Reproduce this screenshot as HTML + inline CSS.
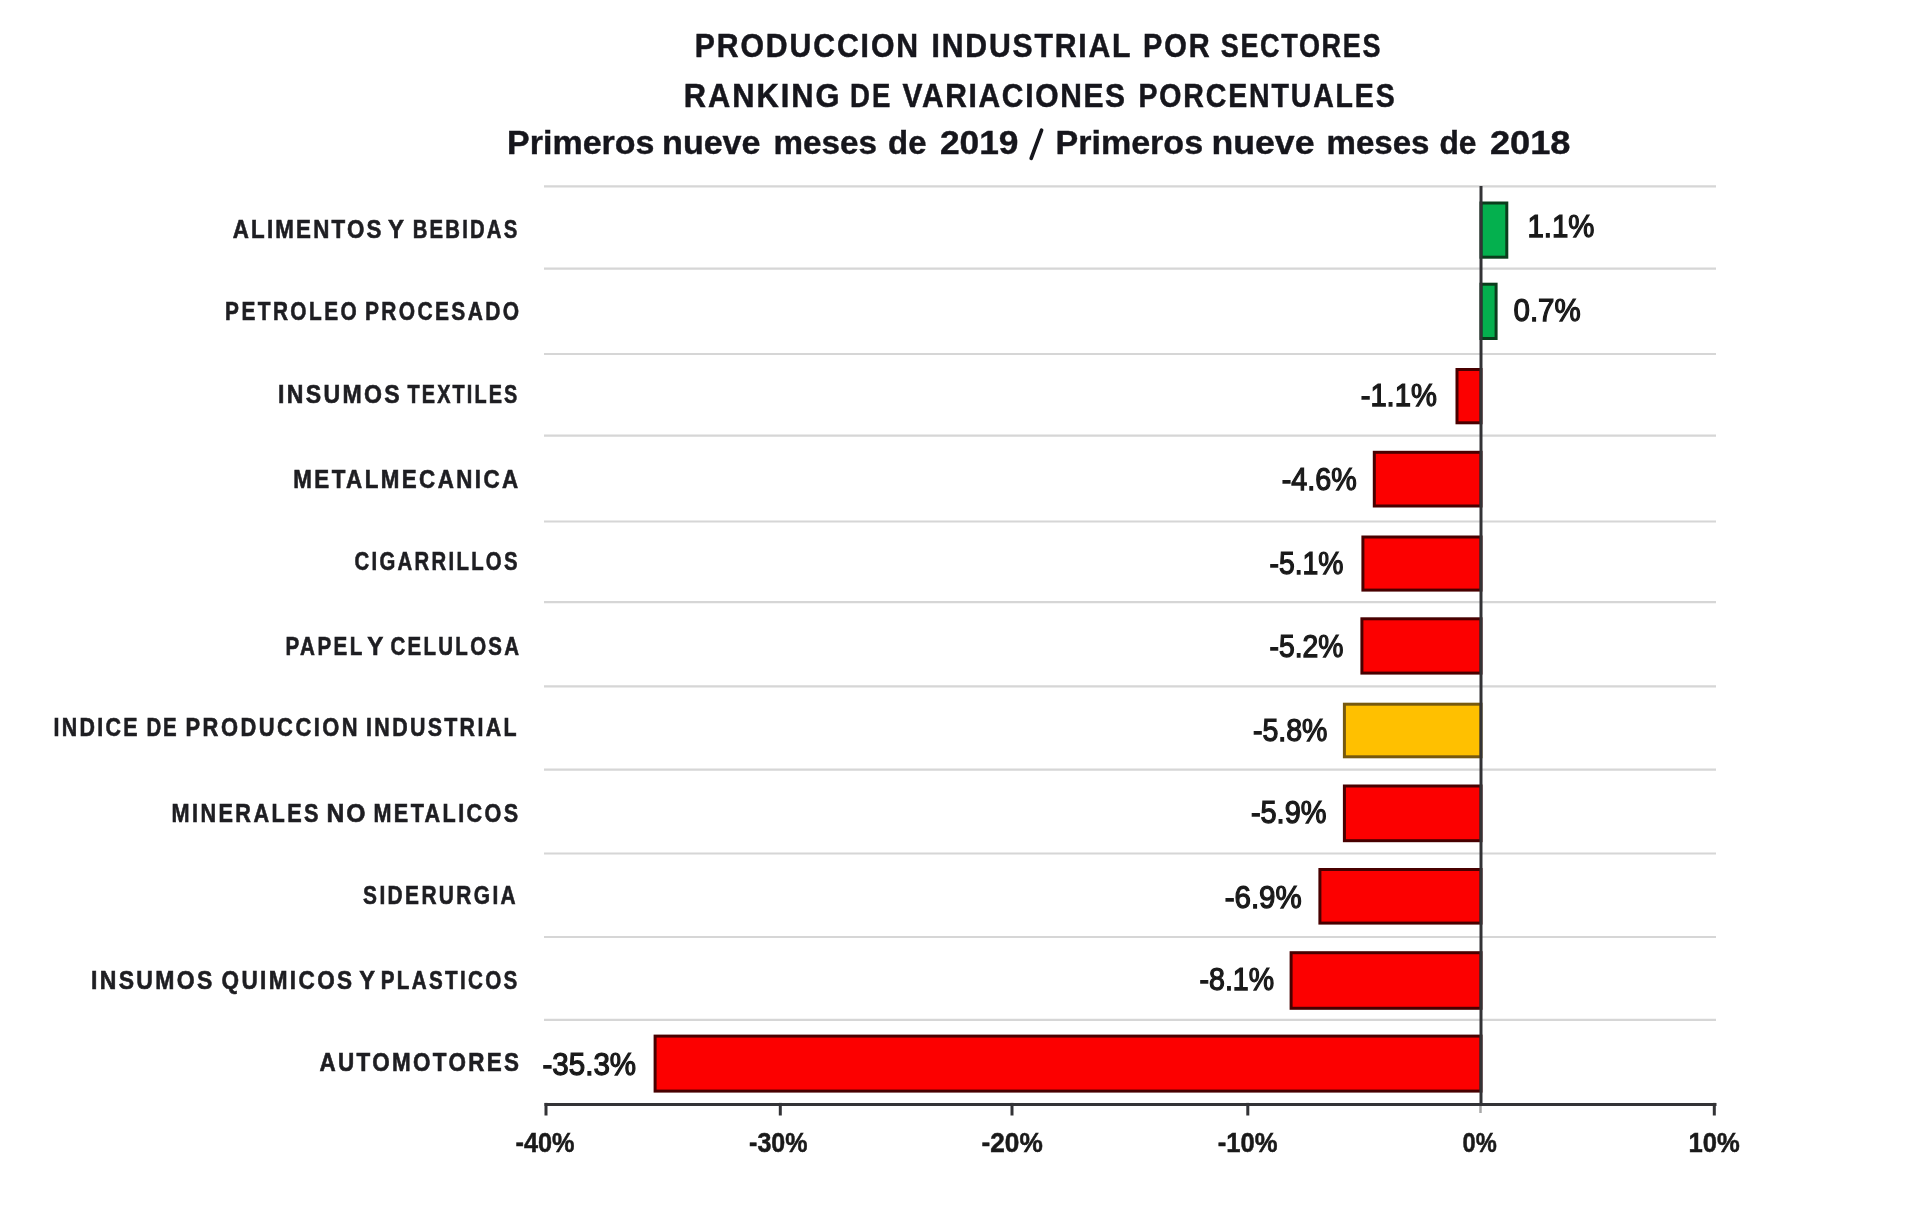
<!DOCTYPE html>
<html><head><meta charset="utf-8"><style>
html,body{margin:0;padding:0;background:#fff;}
body{width:1920px;height:1223px;overflow:hidden;}
svg{display:block;filter:blur(0.6px);}
text{font-family:"Liberation Sans",sans-serif;font-weight:bold;}
</style></head><body>
<svg width="1920" height="1223" viewBox="0 0 1920 1223">
<rect x="0" y="0" width="1920" height="1223" fill="#ffffff"/>
<g stroke="#d6d6d6" stroke-width="2.2" fill="none">
<line x1="544" y1="186.4" x2="1716" y2="186.4"/>
<line x1="544" y1="268.6" x2="1716" y2="268.6"/>
<line x1="544" y1="354" x2="1716" y2="354"/>
<line x1="544" y1="435.6" x2="1716" y2="435.6"/>
<line x1="544" y1="521.5" x2="1716" y2="521.5"/>
<line x1="544" y1="602.2" x2="1716" y2="602.2"/>
<line x1="544" y1="686.4" x2="1716" y2="686.4"/>
<line x1="544" y1="769.6" x2="1716" y2="769.6"/>
<line x1="544" y1="853.5" x2="1716" y2="853.5"/>
<line x1="544" y1="937" x2="1716" y2="937"/>
<line x1="544" y1="1019.9" x2="1716" y2="1019.9"/>
</g>
<rect x="1481.00" y="203.00" width="25.80" height="54.20" fill="#04b04e" stroke="#0a3d1c" stroke-width="3.0"/>
<rect x="1481.00" y="284.20" width="15.10" height="54.30" fill="#04b04e" stroke="#0a3d1c" stroke-width="3.0"/>
<rect x="1457.00" y="369.50" width="24.00" height="53.30" fill="#fc0000" stroke="#480000" stroke-width="3.0"/>
<rect x="1374.30" y="452.30" width="106.70" height="53.70" fill="#fc0000" stroke="#480000" stroke-width="3.0"/>
<rect x="1362.90" y="537.00" width="118.10" height="53.10" fill="#fc0000" stroke="#480000" stroke-width="3.0"/>
<rect x="1361.90" y="618.80" width="119.10" height="54.30" fill="#fc0000" stroke="#480000" stroke-width="3.0"/>
<rect x="1344.40" y="704.20" width="136.60" height="52.60" fill="#ffc000" stroke="#77590f" stroke-width="3.0"/>
<rect x="1344.40" y="786.00" width="136.60" height="54.70" fill="#fc0000" stroke="#480000" stroke-width="3.0"/>
<rect x="1319.90" y="869.50" width="161.10" height="53.60" fill="#fc0000" stroke="#480000" stroke-width="3.0"/>
<rect x="1291.10" y="952.70" width="189.90" height="55.60" fill="#fc0000" stroke="#480000" stroke-width="3.0"/>
<rect x="655.10" y="1036.10" width="825.90" height="55.00" fill="#fc0000" stroke="#480000" stroke-width="3.0"/>
<g stroke="#333336" stroke-width="3" fill="none">
<line x1="544.5" y1="1104.4" x2="1716.5" y2="1104.4"/>
<line x1="546" y1="1102.9" x2="546" y2="1115.5"/>
<line x1="780.3" y1="1102.9" x2="780.3" y2="1115.5"/>
<line x1="1012" y1="1102.9" x2="1012" y2="1115.5"/>
<line x1="1247.8" y1="1102.9" x2="1247.8" y2="1115.5"/>
<line x1="1714.3" y1="1102.9" x2="1714.3" y2="1115.5"/>
<line x1="1480.5" y1="1105.9" x2="1480.5" y2="1113" stroke="#a8a8a8" stroke-width="2.5"/>
<line x1="1481.0" y1="186" x2="1481.0" y2="1105.9"/>
</g>
<text transform="scale(0.9293372731110174,1)" x="747.52" y="57.50" font-size="32.5" fill="#16161c" textLength="240.39" lengthAdjust="spacing" stroke="#16161c" stroke-width="0.5">PRODUCCION</text>
<text transform="scale(0.9288765383088528,1)" x="1002.82" y="57.50" font-size="32.5" fill="#16161c" textLength="214.24" lengthAdjust="spacing" stroke="#16161c" stroke-width="0.5">INDUSTRIAL</text>
<text transform="scale(0.8915705412599803,1)" x="1282.12" y="57.50" font-size="32.5" fill="#16161c" textLength="74.70" lengthAdjust="spacing" stroke="#16161c" stroke-width="0.5">POR</text>
<text transform="scale(0.8310740903112672,1)" x="1468.82" y="57.50" font-size="32.5" fill="#16161c" textLength="192.28" lengthAdjust="spacing" stroke="#16161c" stroke-width="0.5">SECTORES</text>
<text transform="scale(0.9487586277943754,1)" x="720.63" y="107.20" font-size="32.5" fill="#16161c" textLength="164.21" lengthAdjust="spacing" stroke="#16161c" stroke-width="0.5">RANKING</text>
<text transform="scale(0.8481660899653984,1)" x="1002.28" y="107.20" font-size="32.5" fill="#16161c" textLength="47.63" lengthAdjust="spacing" stroke="#16161c" stroke-width="0.5">DE</text>
<text transform="scale(0.9220263084242937,1)" x="978.82" y="107.20" font-size="32.5" fill="#16161c" textLength="241.42" lengthAdjust="spacing" stroke="#16161c" stroke-width="0.5">VARIACIONES</text>
<text transform="scale(0.8771705673964805,1)" x="1297.92" y="107.20" font-size="32.5" fill="#16161c" textLength="292.08" lengthAdjust="spacing" stroke="#16161c" stroke-width="0.5">PORCENTUALES</text>
<text x="507.10" y="154.40" font-size="32.5" fill="#16161c" textLength="147.40" lengthAdjust="spacingAndGlyphs" stroke="#16161c" stroke-width="0.4">Primeros</text>
<text x="662.10" y="154.40" font-size="32.5" fill="#16161c" textLength="98.40" lengthAdjust="spacingAndGlyphs" stroke="#16161c" stroke-width="0.4">nueve</text>
<text x="773.50" y="154.40" font-size="32.5" fill="#16161c" textLength="103.40" lengthAdjust="spacingAndGlyphs" stroke="#16161c" stroke-width="0.4">meses</text>
<text x="888.10" y="154.40" font-size="32.5" fill="#16161c" textLength="38.40" lengthAdjust="spacingAndGlyphs" stroke="#16161c" stroke-width="0.4">de</text>
<text x="939.90" y="154.40" font-size="32.5" fill="#16161c" textLength="78.60" lengthAdjust="spacingAndGlyphs" stroke="#16161c" stroke-width="0.4">2019</text>
<text x="1055.50" y="154.40" font-size="32.5" fill="#16161c" textLength="147.60" lengthAdjust="spacingAndGlyphs" stroke="#16161c" stroke-width="0.4">Primeros</text>
<text x="1211.50" y="154.40" font-size="32.5" fill="#16161c" textLength="103.00" lengthAdjust="spacingAndGlyphs" stroke="#16161c" stroke-width="0.4">nueve</text>
<text x="1326.50" y="154.40" font-size="32.5" fill="#16161c" textLength="103.00" lengthAdjust="spacingAndGlyphs" stroke="#16161c" stroke-width="0.4">meses</text>
<text x="1439.50" y="154.40" font-size="32.5" fill="#16161c" textLength="37.00" lengthAdjust="spacingAndGlyphs" stroke="#16161c" stroke-width="0.4">de</text>
<text x="1489.90" y="154.40" font-size="32.5" fill="#16161c" textLength="80.60" lengthAdjust="spacingAndGlyphs" stroke="#16161c" stroke-width="0.4">2018</text>
<text transform="scale(0.8767352050934141,1)" x="265.42" y="238.00" font-size="25.5" fill="#1e1e22" textLength="169.72" lengthAdjust="spacing" stroke="#1e1e22" stroke-width="0.6">ALIMENTOS</text>
<text transform="scale(0.9403122130394858,1)" x="412.63" y="238.00" font-size="25.5" fill="#1e1e22" textLength="18.08" lengthAdjust="spacing" stroke="#1e1e22" stroke-width="0.6">Y</text>
<text transform="scale(0.7972770592239621,1)" x="517.64" y="238.00" font-size="25.5" fill="#1e1e22" textLength="131.20" lengthAdjust="spacing" stroke="#1e1e22" stroke-width="0.6">BEBIDAS</text>
<text transform="scale(0.8170212765957447,1)" x="275.51" y="320.30" font-size="25.5" fill="#1e1e22" textLength="161.07" lengthAdjust="spacing" stroke="#1e1e22" stroke-width="0.6">PETROLEO</text>
<text transform="scale(0.8219792755965394,1)" x="443.93" y="320.30" font-size="25.5" fill="#1e1e22" textLength="187.60" lengthAdjust="spacing" stroke="#1e1e22" stroke-width="0.6">PROCESADO</text>
<text transform="scale(0.9057634239201784,1)" x="306.81" y="402.80" font-size="25.5" fill="#1e1e22" textLength="134.47" lengthAdjust="spacing" stroke="#1e1e22" stroke-width="0.6">INSUMOS</text>
<text transform="scale(0.7787665085267346,1)" x="523.26" y="402.80" font-size="25.5" fill="#1e1e22" textLength="140.99" lengthAdjust="spacing" stroke="#1e1e22" stroke-width="0.6">TEXTILES</text>
<text transform="scale(0.8771232685042675,1)" x="334.39" y="488.10" font-size="25.5" fill="#1e1e22" textLength="256.29" lengthAdjust="spacing" stroke="#1e1e22" stroke-width="0.6">METALMECANICA</text>
<text transform="scale(0.7969403184203504,1)" x="444.83" y="570.00" font-size="25.5" fill="#1e1e22" textLength="204.53" lengthAdjust="spacing" stroke="#1e1e22" stroke-width="0.6">CIGARRILLOS</text>
<text transform="scale(0.8072180451127818,1)" x="353.68" y="655.20" font-size="25.5" fill="#1e1e22" textLength="95.14" lengthAdjust="spacing" stroke="#1e1e22" stroke-width="0.6">PAPEL</text>
<text transform="scale(0.9461891643709839,1)" x="388.14" y="655.20" font-size="25.5" fill="#1e1e22" textLength="18.07" lengthAdjust="spacing" stroke="#1e1e22" stroke-width="0.6">Y</text>
<text transform="scale(0.8028520499108733,1)" x="486.39" y="655.20" font-size="25.5" fill="#1e1e22" textLength="160.18" lengthAdjust="spacing" stroke="#1e1e22" stroke-width="0.6">CELULOSA</text>
<text transform="scale(0.8387563268257412,1)" x="63.78" y="736.50" font-size="25.5" fill="#1e1e22" textLength="100.15" lengthAdjust="spacing" stroke="#1e1e22" stroke-width="0.6">INDICE</text>
<text transform="scale(0.8014109347442684,1)" x="182.80" y="736.50" font-size="25.5" fill="#1e1e22" textLength="37.68" lengthAdjust="spacing" stroke="#1e1e22" stroke-width="0.6">DE</text>
<text transform="scale(0.8590334439164351,1)" x="215.94" y="736.50" font-size="25.5" fill="#1e1e22" textLength="200.46" lengthAdjust="spacing" stroke="#1e1e22" stroke-width="0.6">PRODUCCION</text>
<text transform="scale(0.838611757563493,1)" x="436.55" y="736.50" font-size="25.5" fill="#1e1e22" textLength="179.34" lengthAdjust="spacing" stroke="#1e1e22" stroke-width="0.6">INDUSTRIAL</text>
<text transform="scale(0.850936329588015,1)" x="201.54" y="821.60" font-size="25.5" fill="#1e1e22" textLength="172.75" lengthAdjust="spacing" stroke="#1e1e22" stroke-width="0.6">MINERALES</text>
<text transform="scale(0.9699346405228758,1)" x="336.62" y="821.60" font-size="25.5" fill="#1e1e22" textLength="40.21" lengthAdjust="spacing" stroke="#1e1e22" stroke-width="0.6">NO</text>
<text transform="scale(0.8477133825079028,1)" x="440.60" y="821.60" font-size="25.5" fill="#1e1e22" textLength="170.58" lengthAdjust="spacing" stroke="#1e1e22" stroke-width="0.6">METALICOS</text>
<text transform="scale(0.8200644090953448,1)" x="442.77" y="904.00" font-size="25.5" fill="#1e1e22" textLength="186.08" lengthAdjust="spacing" stroke="#1e1e22" stroke-width="0.6">SIDERURGIA</text>
<text transform="scale(0.9024025206774319,1)" x="100.95" y="989.00" font-size="25.5" fill="#1e1e22" textLength="134.31" lengthAdjust="spacing" stroke="#1e1e22" stroke-width="0.6">INSUMOS</text>
<text transform="scale(0.8850321173191127,1)" x="250.27" y="989.00" font-size="25.5" fill="#1e1e22" textLength="147.57" lengthAdjust="spacing" stroke="#1e1e22" stroke-width="0.6">QUIMICOS</text>
<text transform="scale(0.9285583103764928,1)" x="386.84" y="989.00" font-size="25.5" fill="#1e1e22" textLength="18.09" lengthAdjust="spacing" stroke="#1e1e22" stroke-width="0.6">Y</text>
<text transform="scale(0.8099357601713064,1)" x="470.04" y="989.00" font-size="25.5" fill="#1e1e22" textLength="168.66" lengthAdjust="spacing" stroke="#1e1e22" stroke-width="0.6">PLASTICOS</text>
<text transform="scale(0.8808988764044943,1)" x="362.70" y="1070.80" font-size="25.5" fill="#1e1e22" textLength="226.59" lengthAdjust="spacing" stroke="#1e1e22" stroke-width="0.6">AUTOMOTORES</text>
<text x="1527.50" y="237.00" font-size="31" fill="#1a1a1a" textLength="67.00" lengthAdjust="spacingAndGlyphs" style="font-weight:normal" stroke="#1a1a1a" stroke-width="1.25">1.1%</text>
<text x="1513.50" y="321.30" font-size="31" fill="#1a1a1a" textLength="67.20" lengthAdjust="spacingAndGlyphs" style="font-weight:normal" stroke="#1a1a1a" stroke-width="1.25">0.7%</text>
<text x="1360.70" y="406.40" font-size="31" fill="#1a1a1a" textLength="76.20" lengthAdjust="spacingAndGlyphs" style="font-weight:normal" stroke="#1a1a1a" stroke-width="1.25">-1.1%</text>
<text x="1281.70" y="489.80" font-size="31" fill="#1a1a1a" textLength="75.00" lengthAdjust="spacingAndGlyphs" style="font-weight:normal" stroke="#1a1a1a" stroke-width="1.25">-4.6%</text>
<text x="1269.50" y="573.60" font-size="31" fill="#1a1a1a" textLength="74.00" lengthAdjust="spacingAndGlyphs" style="font-weight:normal" stroke="#1a1a1a" stroke-width="1.25">-5.1%</text>
<text x="1269.50" y="656.60" font-size="31" fill="#1a1a1a" textLength="74.00" lengthAdjust="spacingAndGlyphs" style="font-weight:normal" stroke="#1a1a1a" stroke-width="1.25">-5.2%</text>
<text x="1252.90" y="740.80" font-size="31" fill="#1a1a1a" textLength="74.60" lengthAdjust="spacingAndGlyphs" style="font-weight:normal" stroke="#1a1a1a" stroke-width="1.25">-5.8%</text>
<text x="1250.90" y="823.00" font-size="31" fill="#1a1a1a" textLength="75.60" lengthAdjust="spacingAndGlyphs" style="font-weight:normal" stroke="#1a1a1a" stroke-width="1.25">-5.9%</text>
<text x="1224.70" y="908.00" font-size="31" fill="#1a1a1a" textLength="77.00" lengthAdjust="spacingAndGlyphs" style="font-weight:normal" stroke="#1a1a1a" stroke-width="1.25">-6.9%</text>
<text x="1199.50" y="989.60" font-size="31" fill="#1a1a1a" textLength="74.60" lengthAdjust="spacingAndGlyphs" style="font-weight:normal" stroke="#1a1a1a" stroke-width="1.25">-8.1%</text>
<text x="542.50" y="1075.20" font-size="31" fill="#1a1a1a" textLength="93.60" lengthAdjust="spacingAndGlyphs" style="font-weight:normal" stroke="#1a1a1a" stroke-width="1.25">-35.3%</text>
<text x="515.50" y="1152.00" font-size="27" fill="#1a1a1a" textLength="59.00" lengthAdjust="spacingAndGlyphs" stroke="#1a1a1a" stroke-width="0.5">-40%</text>
<text x="749.10" y="1152.00" font-size="27" fill="#1a1a1a" textLength="58.40" lengthAdjust="spacingAndGlyphs" stroke="#1a1a1a" stroke-width="0.5">-30%</text>
<text x="981.50" y="1152.00" font-size="27" fill="#1a1a1a" textLength="61.20" lengthAdjust="spacingAndGlyphs" stroke="#1a1a1a" stroke-width="0.5">-20%</text>
<text x="1217.70" y="1152.00" font-size="27" fill="#1a1a1a" textLength="59.80" lengthAdjust="spacingAndGlyphs" stroke="#1a1a1a" stroke-width="0.5">-10%</text>
<text x="1462.50" y="1152.00" font-size="27" fill="#1a1a1a" textLength="34.20" lengthAdjust="spacingAndGlyphs" stroke="#1a1a1a" stroke-width="0.5">0%</text>
<text x="1688.50" y="1152.00" font-size="27" fill="#1a1a1a" textLength="51.20" lengthAdjust="spacingAndGlyphs" stroke="#1a1a1a" stroke-width="0.5">10%</text>
<line x1="1031.2" y1="158.3" x2="1041.6" y2="130.2" stroke="#16161c" stroke-width="3.7" stroke-linecap="round"/>
</svg>
</body></html>
